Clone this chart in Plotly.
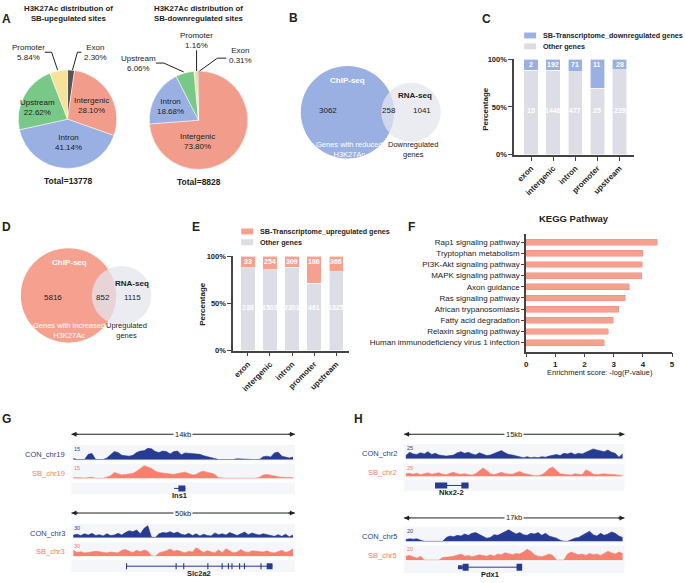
import plotly.graph_objects as go

W, H = 685, 583
FONT = "Arial, Liberation Sans, Helvetica, sans-serif"

# ---------------- data ----------------
up_sites_labels = ["Exon", "Intergenic", "Intron", "Upstream", "Promoter"]
up_sites_pct = [2.30, 28.10, 41.14, 22.62, 5.84]
down_sites_labels = ["Intergenic", "Intron", "Upstream", "Promoter", "Exon"]
down_sites_pct = [73.80, 18.68, 6.06, 1.16, 0.31]
up_sites_total = 13778
down_sites_total = 8828

venn_down_counts = [3062, 258, 1041]   # ChIP only, overlap, RNA only
venn_up_counts = [5816, 852, 1115]

regions = ["exon", "intergenic", "intron", "promoter", "upstream"]
down_genes = [2, 192, 71, 11, 28]
down_other = [15, 1446, 477, 25, 229]
up_genes = [33, 254, 309, 186, 366]
up_other = [238, 1503, 2301, 461, 1825]

kegg_terms = ["Rap1 signaling pathway", "Tryptophan metabolism", "PI3K-Akt signaling pathway",
              "MAPK signaling pathway", "Axon guidance", "Ras signaling pathway",
              "African trypanosomiasis", "Fatty acid degradation", "Relaxin signaling pathway",
              "Human immunodeficiency virus 1 infection"]
kegg_scores = [4.49, 4.00, 3.98, 3.96, 3.53, 3.39, 3.17, 2.99, 2.82, 2.68]

# genome track coverage (binned)
con_chr19 = [1.5, 0.3, 0.3, 0.3, 6, 7, 0.3, 0.3, 0.3, 2, 6, 9, 8, 5, 4.5, 4, 5, 8, 9.5, 10,
             12.5, 12, 9, 8, 9.5, 9, 6.5, 9, 9.5, 5.5, 7.5, 7, 6.5, 6, 6, 4.5, 3.5, 2.5, 1.5, 0.3,
             0.3, 0.3, 0.3, 0.3, 1.2, 0.8, 0.3, 0.3, 0.3, 0.3, 0.5, 3.5, 4, 3, 7.5, 8.5, 4, 3, 2, 3]
sb_chr19 = [1, 1.2, 0.8, 0.5, 1.2, 1.5, 0.3, 0.3, 0.3, 1.5, 3, 6.5, 5, 4, 4.5, 5, 5.5, 8, 11, 14,
            12.5, 11, 8, 6.5, 6, 5.5, 5, 4.5, 5.5, 6.5, 7, 5.5, 4, 4.5, 7, 8, 6.5, 6, 4.5, 1,
            0.3, 0.3, 0.3, 0.3, 0.8, 0.6, 0.3, 0.3, 0.3, 0.3, 1.5, 4, 4.5, 3.5, 2.5, 2, 1.5, 1, 1, 0.8]
con_chr3 = [6, 8, 5, 9, 6, 10, 5, 7, 4, 9, 5, 6, 10, 6, 12, 16, 14, 18, 9, 22,
            28, 1, 0.5, 9, 12, 11, 14, 10, 13, 8, 6, 10, 5, 9, 4, 8, 5, 4, 11, 7,
            9, 6, 12, 8, 5, 9, 13, 7, 11, 8, 6, 9, 7, 4, 3, 7, 3, 8, 2, 6]
sb_chr3 = [14, 9, 11, 8, 9, 10, 12, 11, 9, 8, 10, 9, 8, 14, 16, 12, 9, 14, 11, 15,
           12, 0.5, 0.5, 8, 10, 13, 17, 12, 14, 11, 8, 12, 10, 20, 14, 9, 13, 11, 8, 15,
           9, 18, 12, 8, 10, 16, 11, 9, 13, 12, 11, 10, 13, 9, 8, 11, 14, 9, 12, 18]
con_chr2 = [6, 12, 9, 8, 11, 9, 13, 8, 10, 7, 6, 5, 6, 7, 11, 13, 10, 12, 9, 7,
            11, 8, 6, 7, 10, 12, 15, 11, 8, 7, 5, 3, 2, 4, 2, 3, 2, 4, 3, 5,
            6, 8, 6, 10, 9, 11, 8, 10, 9, 12, 15, 18, 16, 14, 13, 16, 12, 10, 3, 9]
sb_chr2 = [6, 7, 5, 7, 4, 6, 8, 5, 6, 8, 5, 4, 7, 9, 6, 5, 6, 4, 3, 6,
           12, 18, 13, 6, 4, 7, 9, 6, 5, 5, 8, 11, 7, 5, 3, 2, 2, 4, 9, 17,
           20, 12, 6, 5, 4, 3, 6, 5, 4, 14, 11, 5, 4, 5, 6, 5, 5, 4, 3, 2]
con_chr5 = [3, 4, 3.5, 4, 2, 0.3, 0.3, 0.3, 0.3, 0.3, 0.3, 6, 8, 7, 9, 8, 11, 9, 12, 13,
            10, 7, 5, 6, 10, 9, 12, 15, 17, 14, 11, 13, 10, 9, 12, 11, 13, 9, 12, 8,
            7, 5, 2, 0.5, 0.3, 3, 5, 6, 9, 11, 15, 10, 8, 12, 9, 11, 14, 12, 8, 6]
sb_chr5 = [6, 7, 5, 3, 6, 0.3, 0.3, 0.3, 0.3, 0.3, 4, 4, 5, 6, 7, 9, 6, 7, 5, 6,
           8, 7, 6, 8, 6, 9, 8, 11, 9, 8, 10, 9, 12, 16, 13, 8, 6, 5, 7, 9,
           7, 0.3, 0.3, 0.3, 9, 12, 10, 8, 9, 7, 10, 8, 9, 7, 10, 13, 11, 9, 12, 10]

# gene models (kb): intron span, exons (start, end)
ins1_span = (6.43, 7.14)
ins1_exons = [(6.70, 7.14)]
slc2a2_span = (12.3, 45.0)
slc2a2_exons = [(12.2, 12.45), (23.3, 23.55), (25.0, 25.25), (30.4, 30.65), (33.6, 33.85),
                (35.0, 35.25), (35.8, 36.05), (37.5, 37.75), (38.6, 38.85), (42.3, 42.55), (43.7, 45.0)]
nkx22_span = (2.11, 4.39)
nkx22_exons = [(2.11, 2.94), (3.90, 4.39)]
pdx1_span = (4.16, 9.11)
pdx1_exons = [(4.16, 4.52), (4.52, 4.98), (8.68, 9.11)]
pdx1_exon_thick = [4, 7, 7]

# ---------------- styling ----------------
C_INTERGENIC = "#F29D8B"
region_colors = {"Exon": "#555555", "Intergenic": C_INTERGENIC, "Intron": "#9AAFE2",
                 "Upstream": "#78C887", "Promoter": "#F5E29B"}
C_BLUE = "#9AAFE2"
C_SALMON = "#F6A090"
C_OTHER = "#DCDDE5"
C_VGRAY = "#E3E5EE"
C_NAVY = "#283B93"
C_SB = "#F8806F"
TXT = "#222222"

def X(px):
    return px / W

def Y(py):
    return 1 - py / H

ann = []
shapes = []

def T(text, x, y, size=8, color=TXT, bold=False, xa="center", ya="middle", angle=0, bg=None):
    d = dict(text=text, x=X(x), y=Y(y), xref="paper", yref="paper", showarrow=False,
             xanchor=xa, yanchor=ya, textangle=angle,
             font=dict(size=size, color=color, family=FONT, weight=700 if bold else 400))
    if bg:
        d["bgcolor"] = bg
    ann.append(d)

def L(pts, color=TXT, width=1):
    path = "M " + " L ".join(f"{X(x):.5f},{Y(y):.5f}" for x, y in pts)
    shapes.append(dict(type="path", path=path, xref="paper", yref="paper",
                       line=dict(color=color, width=width)))

def R(x0, y0, x1, y1, color, layer="below"):
    shapes.append(dict(type="rect", xref="paper", yref="paper", x0=X(x0), x1=X(x1),
                       y0=Y(y1), y1=Y(y0), fillcolor=color, line=dict(width=0), layer=layer))

def CIRC(cx, cy, r, color, opacity=1.0):
    shapes.append(dict(type="circle", xref="paper", yref="paper", x0=X(cx - r), x1=X(cx + r),
                       y0=Y(cy + r), y1=Y(cy - r), fillcolor=color, opacity=opacity,
                       line=dict(width=0), layer="above"))

fig = go.Figure()
axes = {}

def add_axes(n, xpx, ypx, xr, yr):
    s = "" if n == 1 else str(n)
    axes["xaxis" + s] = dict(domain=[X(xpx[0]), X(xpx[1])], range=xr, anchor="y" + s,
                             visible=False, fixedrange=True)
    axes["yaxis" + s] = dict(domain=[Y(ypx[1]), Y(ypx[0])], range=yr, anchor="x" + s,
                             visible=False, fixedrange=True)
    return ("x" + s, "y" + s)

# ---------------- panel A: pies ----------------
fig.add_trace(go.Pie(labels=up_sites_labels, values=up_sites_pct, sort=False, direction="clockwise",
                     rotation=0, textinfo="none", hoverinfo="skip", showlegend=False,
                     marker=dict(colors=[region_colors[l] for l in up_sites_labels],
                                 line=dict(color="white", width=0.5)),
                     domain=dict(x=[X(16), X(116)], y=[Y(167), Y(67)])))
fig.add_trace(go.Pie(labels=down_sites_labels, values=down_sites_pct, sort=False, direction="clockwise",
                     rotation=0, textinfo="none", hoverinfo="skip", showlegend=False,
                     marker=dict(colors=[region_colors[l] for l in down_sites_labels],
                                 line=dict(color="white", width=0.5)),
                     domain=dict(x=[X(148), X(248)], y=[Y(168), Y(68)])))

T("A", 5, 15, size=12, bold=True)
T("H3K27Ac distribution of<br>SB-upegulated sites", 67, 10, size=7.8, bold=True)
T("H3K27Ac distribution of<br>SB-downregulated sites", 198, 10, size=7.8, bold=True)

up_pos = {"Intergenic": (90, 103), "Intron": (67, 141), "Upstream": (36, 105),
          "Promoter": (27, 49), "Exon": (94, 49)}
for lab, pct in zip(up_sites_labels, up_sites_pct):
    x, y = up_pos[lab]
    T(f"{lab}<br>{pct:.2f}%", x, y, size=8)
down_pos = {"Intergenic": (197, 140), "Intron": (170, 104), "Upstream": (137, 60),
            "Promoter": (196, 37), "Exon": (240, 52)}
for lab, pct in zip(down_sites_labels, down_sites_pct):
    x, y = down_pos[lab]
    T(f"{lab}<br>{pct:.2f}%", x, y, size=8)

L([(43, 49), (50, 49), (56, 67)])
L([(80, 49), (76, 49), (71, 67)])
L([(155, 60), (163, 60), (183, 69)])
L([(196, 47), (196, 68)])
L([(226, 55), (217, 55), (199, 68)])

T(f"Total={up_sites_total}", 67, 180, size=8.5, bold=True)
T(f"Total={down_sites_total}", 198, 181, size=8.5, bold=True)

# ---------------- panel B / D: Venn ----------------
T("B", 294, 14, size=12, bold=True)
CIRC(348, 110, 47, C_BLUE)
CIRC(412, 110, 30, C_VGRAY, 0.75)
T("ChIP-seq", 348, 78, size=8, color="white", bold=True)
T(str(venn_down_counts[0]), 328, 108, size=8)
T(str(venn_down_counts[1]), 390, 108, size=8)
T(str(venn_down_counts[2]), 423, 108, size=8)
T("RNA-seq", 416, 93, size=8, bold=True)
T("Genes with reduced<br>H3K27Ac", 350, 148, size=7.5, color="white")
T("Downregulated<br>genes", 414, 148, size=7.5)

T("D", 5, 227, size=12, bold=True)
CIRC(67, 296, 48, C_SALMON)
CIRC(120.5, 296, 30, C_VGRAY, 0.75)
T("ChIP-seq", 68, 263, size=8, color="white", bold=True)
T(str(venn_up_counts[0]), 51, 298, size=8)
T(str(venn_up_counts[1]), 102, 298, size=8)
T(str(venn_up_counts[2]), 131, 298, size=8)
T("RNA-seq", 131, 284, size=8, bold=True)
T("Genes with increased<br>H3K27Ac", 67, 332, size=7.5, color="white")
T("Upregulated<br>genes", 125, 332, size=7.5)

# ---------------- panels C / E: stacked 100% bars ----------------
def stacked(n, xpx, ypx, xr, genes, other, color, label, legend_xy, letter, letter_xy, ytitle_xy):
    xa, ya = add_axes(n, xpx, ypx, xr, [0, 100])
    tot = [g + o for g, o in zip(genes, other)]
    other_pct = [o / t * 100 for o, t in zip(other, tot)]
    gene_pct = [g / t * 100 for g, t in zip(genes, tot)]
    fig.add_trace(go.Bar(x=regions, y=other_pct, marker=dict(color=C_OTHER, line=dict(color="white", width=0.6)),
                         width=0.65, xaxis=xa, yaxis=ya, hoverinfo="skip", showlegend=False))
    fig.add_trace(go.Bar(x=regions, y=gene_pct, marker=dict(color=color, line=dict(color="white", width=0.6)),
                         width=0.65, xaxis=xa, yaxis=ya, hoverinfo="skip", showlegend=False))
    s = "" if n == 1 else str(n)
    axes["xaxis" + s].update(visible=True, type="category", showline=True, linecolor="#444", linewidth=1.8,
                             ticks="outside", ticklen=4, tickwidth=1.3, tickcolor="#444", tickangle=-45,
                             tickfont=dict(size=8, color=TXT, family=FONT, weight=700), showgrid=False)
    axes["yaxis" + s].update(visible=True, showline=True, linecolor="#444", linewidth=1.8,
                             ticks="outside", ticklen=4, tickwidth=1.3, tickcolor="#444",
                             tickvals=[0, 50, 100], ticktext=["0%", "50%", "100%"], showgrid=False,
                             zeroline=False, tickfont=dict(size=7.5, color=TXT, family=FONT, weight=700))
    for r, g, o in zip(regions, genes, other):
        ann.append(dict(text=str(g), x=r, y=94, xref=xa, yref=ya, showarrow=False,
                        font=dict(size=7, color="white", family=FONT, weight=700)))
        ann.append(dict(text=str(o), x=r, y=46, xref=xa, yref=ya, showarrow=False,
                        font=dict(size=7, color="white", family=FONT, weight=700)))
    lx, ly = legend_xy
    R(lx, ly - 3, lx + 12, ly + 3, color, layer="above")
    R(lx, ly + 8, lx + 12, ly + 14, C_OTHER, layer="above")
    T(label, lx + 17, ly, size=7.2, bold=True, xa="left")
    T("Other genes", lx + 17, ly + 11, size=7.2, bold=True, xa="left")
    T(letter, letter_xy[0], letter_xy[1], size=12, bold=True)
    T("Percentage", ytitle_xy[0], ytitle_xy[1], size=8, bold=True, angle=-90)

stacked(1, (516, 637), (56, 153), [-0.76, 4.67], down_genes, down_other, C_BLUE,
        "SB-Transcriptome_downregulated genes", (526, 32), "C", (488, 15), (487, 106))
stacked(2, (233, 350), (256, 352), [-0.66, 4.6], up_genes, up_other, C_SALMON,
        "SB-Transcriptome_upregulated genes", (241, 231), "E", (195, 227), (202, 305))

# ---------------- panel F: KEGG ----------------
xa, ya = add_axes(3, (528, 675), (234, 353), [0, 5], [9.8, -0.7])
fig.add_trace(go.Bar(y=kegg_terms, x=kegg_scores, orientation="h", width=0.52,
                     marker=dict(color=C_SALMON, line=dict(color="#F28C7B", width=0.5)),
                     xaxis=xa, yaxis=ya, hoverinfo="skip", showlegend=False))
axes["xaxis3"].update(visible=True, showline=True, linecolor="#444", linewidth=1.8, ticks="outside",
                      ticklen=4, tickwidth=1.3, tickcolor="#444", tickvals=[0, 1, 2, 3, 4, 5],
                      showgrid=False, zeroline=False,
                      tickfont=dict(size=8, color=TXT, family=FONT, weight=700))
axes["yaxis3"].update(visible=True, type="category", showline=True, linecolor="#444", linewidth=1.8,
                      ticks="outside", ticklen=3, tickwidth=1, tickcolor="#444", showgrid=False,
                      tickfont=dict(size=8, color=TXT, family=FONT))
T("F", 413, 226, size=12, bold=True)
T("KEGG Pathway", 576, 218, size=9.5, bold=True)
T("Enrichment score: -log(P-value)", 602, 374, size=7.5)

# ---------------- panels G / H: genome tracks ----------------
T("G", 5, 421, size=12, bold=True)
T("H", 359, 421, size=12, bold=True)
BG = "#F5F6F9"
n_ax = [4]

def scalebar(x0, x1, y, label):
    L([(x0, y), (x1, y)], color="#222", width=1)
    for xe, off in ((x0, 8), (x1, -8)):
        ann.append(dict(text="", x=X(xe), y=Y(y), xref="paper", yref="paper", showarrow=True,
                        ax=off, ay=0, arrowhead=2, arrowsize=1, arrowwidth=1, arrowcolor="#222"))
    T(label, (x0 + x1) / 2, y, size=7.5, bg="white")

def cov_track(vals, span, color, xpx, top, base, ymax, name, name_color, scale_lbl):
    n = n_ax[0]; n_ax[0] += 1
    xa, ya = add_axes(n, xpx, (top, base), [0, span], [0, ymax])
    xs = [(i + 0.5) * span / len(vals) for i in range(len(vals))]
    fig.add_trace(go.Scatter(x=xs, y=vals, mode="lines", fill="tozeroy", fillcolor=color,
                             line=dict(color=color, width=0.6), xaxis=xa, yaxis=ya,
                             hoverinfo="skip", showlegend=False))
    R(xpx[0], top - 1, xpx[1], base + 1, BG)
    T(name, xpx[0] - 5, (top + base) / 2 + 2, size=7.5, color=name_color, xa="right")
    T(scale_lbl, xpx[0] + 1, top + 3, size=5.5, color=name_color, xa="left")

def gene_track(span_kb, rng, exons, thick, xpx, yc, name):
    n = n_ax[0]; n_ax[0] += 1
    xa, ya = add_axes(n, xpx, (yc - 6, yc + 6), [0, rng], [-1, 1])
    R(xpx[0], yc - 6, xpx[1], yc + 6, BG)
    fig.add_trace(go.Scatter(x=list(span_kb), y=[0, 0], mode="lines", line=dict(color=C_NAVY, width=1),
                             xaxis=xa, yaxis=ya, hoverinfo="skip", showlegend=False))
    for (s, e), t in zip(exons, thick):
        fig.add_trace(go.Scatter(x=[s, e], y=[0, 0], mode="lines", line=dict(color=C_NAVY, width=t),
                                 xaxis=xa, yaxis=ya, hoverinfo="skip", showlegend=False))
    T(name, xpx[0] + (sum(span_kb) / 2) / rng * (xpx[1] - xpx[0]), yc + 7.5, size=7.5, bold=True)

GX = (70, 295)
HX = (405, 627)
scalebar(GX[0], GX[1], 437, "14kb")
cov_track(con_chr19, 14, C_NAVY, GX, 449, 463, 15, "CON_chr19", "#2E3D8F", "15")
cov_track(sb_chr19, 14, C_SB, GX, 468, 482, 15, "SB_chr19", "#F47C6A", "15")
gene_track(ins1_span, 14, ins1_exons, [6], GX, 492, "Ins1")

scalebar(GX[0], GX[1], 517, "50kb")
cov_track(con_chr3, 50, C_NAVY, GX, 529, 542, 30, "CON_chr3", "#2E3D8F", "30")
cov_track(sb_chr3, 50, C_SB, GX, 548, 561, 30, "SB_chr3", "#F47C6A", "30")
gene_track(slc2a2_span, 50, slc2a2_exons, [6] * len(slc2a2_exons), GX, 571, "Slc2a2")

scalebar(HX[0], HX[1], 437, "15kb")
cov_track(con_chr2, 15, C_NAVY, HX, 448, 462, 25, "CON_chr2", "#2E3D8F", "25")
cov_track(sb_chr2, 15, C_SB, HX, 468, 480, 25, "SB_chr2", "#F47C6A", "25")
gene_track(nkx22_span, 15, nkx22_exons, [6, 6], HX, 489, "Nkx2-2")

scalebar(HX[0], HX[1], 522, "17kb")
cov_track(con_chr5, 17, C_NAVY, HX, 532, 546, 20, "CON_chr5", "#2E3D8F", "20")
cov_track(sb_chr5, 17, C_SB, HX, 551, 565, 20, "SB_chr5", "#F47C6A", "20")
gene_track(pdx1_span, 17, pdx1_exons, pdx1_exon_thick, HX, 572, "Pdx1")

fig.update_layout(width=W, height=H, margin=dict(l=0, r=0, t=0, b=0), paper_bgcolor="white",
                  plot_bgcolor="white", showlegend=False, barmode="stack",
                  font=dict(family=FONT, color=TXT), annotations=ann, shapes=shapes, **axes)
# remove the browser's default 8px page margin so the figure sits at the window origin
fig.write_html("out.html", config={"displayModeBar": False},
               post_script="document.body.style.margin='0px';")
